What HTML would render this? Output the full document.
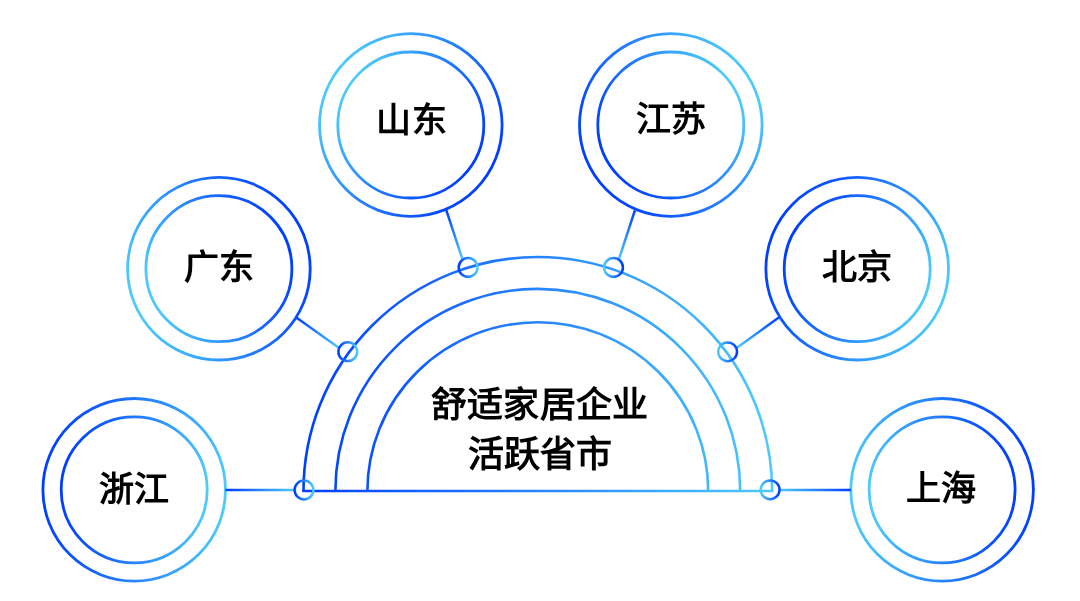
<!DOCTYPE html>
<html lang="zh-CN"><head><meta charset="utf-8"><style>
html,body{margin:0;padding:0;background:#fff;width:1080px;height:601px;overflow:hidden}
svg{display:block;will-change:transform}
text{font-family:"Liberation Sans",sans-serif;font-weight:bold;fill:#000;text-anchor:middle}
.lb{font-size:35px}
.ct{font-size:36px}
</style></head><body>
<svg width="1080" height="601" viewBox="0 0 1080 601">
<defs>
<linearGradient id="c0" x1="0.002" y1="0.456" x2="0.998" y2="0.544"><stop offset="0" stop-color="#003eff"/><stop offset="0.2" stop-color="#0c54fe"/><stop offset="0.4" stop-color="#1b6ffd"/><stop offset="0.6" stop-color="#2b8cfc"/><stop offset="0.8" stop-color="#3cabfb"/><stop offset="1.0" stop-color="#4ecbfa"/></linearGradient>
<linearGradient id="c1" x1="0.970" y1="0.329" x2="0.030" y2="0.671"><stop offset="0" stop-color="#003eff"/><stop offset="0.2" stop-color="#0c54fe"/><stop offset="0.4" stop-color="#1b6ffd"/><stop offset="0.6" stop-color="#2b8cfc"/><stop offset="0.8" stop-color="#3cabfb"/><stop offset="1.0" stop-color="#4ecbfa"/></linearGradient>
<linearGradient id="c2" x1="0.933" y1="0.750" x2="0.067" y2="0.250"><stop offset="0" stop-color="#003eff"/><stop offset="0.2" stop-color="#0c54fe"/><stop offset="0.4" stop-color="#1b6ffd"/><stop offset="0.6" stop-color="#2b8cfc"/><stop offset="0.8" stop-color="#3cabfb"/><stop offset="1.0" stop-color="#4ecbfa"/></linearGradient>
<linearGradient id="c3" x1="0.067" y1="0.750" x2="0.933" y2="0.250"><stop offset="0" stop-color="#003eff"/><stop offset="0.2" stop-color="#0c54fe"/><stop offset="0.4" stop-color="#1b6ffd"/><stop offset="0.6" stop-color="#2b8cfc"/><stop offset="0.8" stop-color="#3cabfb"/><stop offset="1.0" stop-color="#4ecbfa"/></linearGradient>
<linearGradient id="c4" x1="0.030" y1="0.329" x2="0.970" y2="0.671"><stop offset="0" stop-color="#003eff"/><stop offset="0.2" stop-color="#0c54fe"/><stop offset="0.4" stop-color="#1b6ffd"/><stop offset="0.6" stop-color="#2b8cfc"/><stop offset="0.8" stop-color="#3cabfb"/><stop offset="1.0" stop-color="#4ecbfa"/></linearGradient>
<linearGradient id="c5" x1="0.998" y1="0.456" x2="0.002" y2="0.544"><stop offset="0" stop-color="#003eff"/><stop offset="0.2" stop-color="#0c54fe"/><stop offset="0.4" stop-color="#1b6ffd"/><stop offset="0.6" stop-color="#2b8cfc"/><stop offset="0.8" stop-color="#3cabfb"/><stop offset="1.0" stop-color="#4ecbfa"/></linearGradient>
<linearGradient id="l0" gradientUnits="userSpaceOnUse" x1="225.5" y1="490.0" x2="295.0" y2="490.0"><stop offset="0" stop-color="#003eff"/><stop offset="1" stop-color="#4ecbfa"/></linearGradient>
<linearGradient id="l1" gradientUnits="userSpaceOnUse" x1="296.3" y1="317.5" x2="338.8" y2="347.7"><stop offset="0" stop-color="#003eff"/><stop offset="1" stop-color="#4ecbfa"/></linearGradient>
<linearGradient id="l2" gradientUnits="userSpaceOnUse" x1="446.2" y1="209.9" x2="462.2" y2="258.6"><stop offset="0" stop-color="#003eff"/><stop offset="1" stop-color="#4ecbfa"/></linearGradient>
<linearGradient id="l3" gradientUnits="userSpaceOnUse" x1="634.9" y1="210.3" x2="619.0" y2="258.9"><stop offset="0" stop-color="#003eff"/><stop offset="1" stop-color="#4ecbfa"/></linearGradient>
<linearGradient id="l4" gradientUnits="userSpaceOnUse" x1="778.8" y1="317.5" x2="736.9" y2="347.7"><stop offset="0" stop-color="#003eff"/><stop offset="1" stop-color="#4ecbfa"/></linearGradient>
<linearGradient id="l5" gradientUnits="userSpaceOnUse" x1="850.8" y1="490.0" x2="779.0" y2="490.0"><stop offset="0" stop-color="#003eff"/><stop offset="1" stop-color="#4ecbfa"/></linearGradient>
<linearGradient id="arc" gradientUnits="userSpaceOnUse" x1="303.79999999999995" y1="0" x2="771.8" y2="0"><stop offset="0" stop-color="#003eff"/><stop offset="1" stop-color="#4ecbfa"/></linearGradient>
<linearGradient id="n0" x1="0" y1="0.5" x2="1" y2="0.5"><stop offset="0" stop-color="#003eff"/><stop offset="1" stop-color="#4ecbfa"/></linearGradient>
<linearGradient id="n1" x1="0" y1="0.5" x2="1" y2="0.5"><stop offset="0" stop-color="#003eff"/><stop offset="1" stop-color="#4ecbfa"/></linearGradient>
<linearGradient id="n2" x1="0" y1="0.5" x2="1" y2="0.5"><stop offset="0" stop-color="#003eff"/><stop offset="1" stop-color="#4ecbfa"/></linearGradient>
<linearGradient id="n3" x1="0" y1="0.5" x2="1" y2="0.5"><stop offset="0" stop-color="#4ecbfa"/><stop offset="1" stop-color="#003eff"/></linearGradient>
<linearGradient id="n4" x1="0" y1="0.5" x2="1" y2="0.5"><stop offset="0" stop-color="#4ecbfa"/><stop offset="1" stop-color="#003eff"/></linearGradient>
<linearGradient id="n5" x1="0" y1="0.5" x2="1" y2="0.5"><stop offset="0" stop-color="#4ecbfa"/><stop offset="1" stop-color="#003eff"/></linearGradient>
</defs>
<g fill="none" stroke-width="2.8">
<circle cx="134.2" cy="489.8" r="91.3" stroke="url(#c0)"/>
<circle cx="134.2" cy="489.8" r="73.0" stroke="url(#c0)"/>
<circle cx="218.9" cy="268.7" r="91.3" stroke="url(#c1)"/>
<circle cx="218.9" cy="268.7" r="73.0" stroke="url(#c1)"/>
<circle cx="410.8" cy="125.0" r="91.3" stroke="url(#c2)"/>
<circle cx="410.8" cy="125.0" r="73.0" stroke="url(#c2)"/>
<circle cx="670.8" cy="125.0" r="91.3" stroke="url(#c3)"/>
<circle cx="670.8" cy="125.0" r="73.0" stroke="url(#c3)"/>
<circle cx="857.2" cy="268.7" r="91.3" stroke="url(#c4)"/>
<circle cx="857.2" cy="268.7" r="73.0" stroke="url(#c4)"/>
<circle cx="942.1" cy="489.8" r="91.3" stroke="url(#c5)"/>
<circle cx="942.1" cy="489.8" r="73.0" stroke="url(#c5)"/>
<line x1="225.5" y1="490.0" x2="295.0" y2="490.0" stroke="url(#l0)" stroke-width="2.5"/>
<line x1="296.3" y1="317.5" x2="338.8" y2="347.7" stroke="url(#l1)" stroke-width="2.5"/>
<line x1="446.2" y1="209.9" x2="462.2" y2="258.6" stroke="url(#l2)" stroke-width="2.5"/>
<line x1="634.9" y1="210.3" x2="619.0" y2="258.9" stroke="url(#l3)" stroke-width="2.5"/>
<line x1="778.8" y1="317.5" x2="736.9" y2="347.7" stroke="url(#l4)" stroke-width="2.5"/>
<line x1="850.8" y1="490.0" x2="779.0" y2="490.0" stroke="url(#l5)" stroke-width="2.5"/>
<path d="M303.49999999999994,491.0 A234.3,234.1 0 0 1 772.0999999999999,491.0 Z M335.4,491.0 A202.4,202.2 0 0 1 740.1999999999999,491.0 M367.4,491.0 A170.4,168.7 0 0 1 708.1999999999999,491.0 " stroke="url(#arc)" stroke-width="2.6"/>
<circle cx="304.0" cy="490.0" r="9.4" fill="none" stroke="url(#n0)" stroke-width="2.5"/>
<circle cx="347.8" cy="351.7" r="9.4" fill="none" stroke="url(#n1)" stroke-width="2.5"/>
<circle cx="468.1" cy="267.4" r="9.4" fill="none" stroke="url(#n2)" stroke-width="2.5"/>
<circle cx="613.5" cy="267.4" r="9.4" fill="none" stroke="url(#n3)" stroke-width="2.5"/>
<circle cx="727.6" cy="351.8" r="9.4" fill="none" stroke="url(#n4)" stroke-width="2.5"/>
<circle cx="770.1" cy="489.8" r="9.4" fill="none" stroke="url(#n5)" stroke-width="2.5"/>
</g>
<text transform="translate(134.20 487.30) scale(1 0.98)" x="0" y="13.8" class="lb">浙江</text>
<text transform="translate(219.30 265.40) scale(1 0.98)" x="0" y="13.8" class="lb">广东</text>
<text transform="translate(411.60 118.05) scale(1 0.98)" x="0" y="13.8" class="lb">山东</text>
<text transform="translate(671.30 117.95) scale(1 0.98)" x="0" y="13.8" class="lb">江苏</text>
<text transform="translate(857.00 265.05) scale(1 0.98)" x="0" y="13.8" class="lb">北京</text>
<text transform="translate(940.90 486.50) scale(1 0.98)" x="0" y="13.8" class="lb">上海</text>
<text transform="translate(539.7 401.9) scale(1 0.98)" x="0" y="15.2" class="ct">舒适家居企业</text>
<text transform="translate(539.7 451.9)" x="0" y="15.4" class="ct">活跃省市</text>
</svg>
</body></html>
